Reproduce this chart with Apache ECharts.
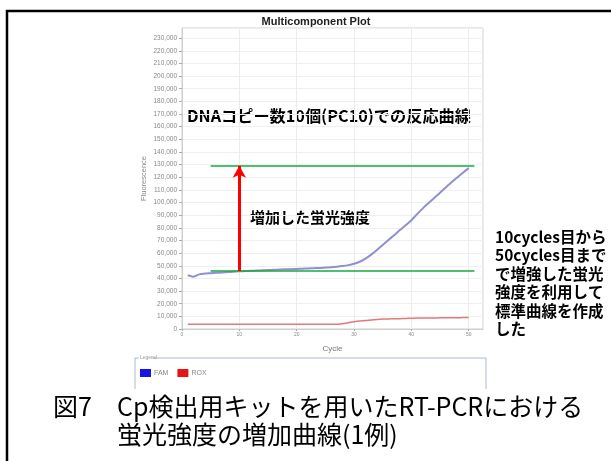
<!DOCTYPE html>
<html>
<head>
<meta charset="utf-8">
<script src="https://cdn.jsdelivr.net/npm/echarts@6/dist/echarts.min.js"></script>
<style>
  html, body { margin: 0; padding: 0; background: #ffffff; }
  #chart { width: 611px; height: 461px; }
</style>
</head>
<body>
<div id="chart"></div>
<script>
// Amplification cycles (x values)
const cycles = [1, 2, 3, 4, 5, 6, 7, 8, 9, 10,
  11, 12, 13, 14, 15, 16, 17, 18, 19, 20,
  21, 22, 23, 24, 25, 26, 27, 28, 29, 30,
  31, 32, 33, 34, 35, 36, 37, 38, 39, 40,
  41, 42, 43, 44, 45, 46, 47, 48, 49, 50];

// FAM reporter fluorescence per cycle
const famValues = [42500, 41400, 43200, 43800, 44100, 44400, 44700, 45000, 45300, 45600,
  45800, 46000, 46200, 46400, 46600, 46800, 47000, 47200, 47300, 47500,
  47700, 47900, 48100, 48300, 48600, 48900, 49300, 49800, 50500, 51600,
  53200, 55600, 58800, 62500, 66500, 70400, 74200, 78200, 82000, 86000,
  90800, 95400, 99600, 103600, 107800, 111900, 116000, 119800, 123600, 127200];

// ROX passive reference fluorescence per cycle
const roxValues = [3700, 3700, 3700, 3700, 3700, 3700, 3700, 3700, 3700, 3700,
  3700, 3700, 3700, 3700, 3700, 3700, 3700, 3700, 3700, 3700,
  3700, 3700, 3700, 3700, 3700, 3700, 3700, 4200, 5000, 5800,
  6400, 6700, 7200, 7600, 7900, 8000, 8100, 8200, 8400, 8500,
  8600, 8600, 8700, 8700, 8800, 8800, 8900, 8900, 9000, 9000];

// Reference levels: fluorescence at cycle 10 and at cycle 50 (plateau)
const refLevels = [45900, 129000];
const refSpan = [5, 51];
const arrowCycle = 10;

// Series names and legend swatch colours
const seriesNames = ['FAM', 'ROX'];
const legendColors = ['#1414e6', '#e61414'];

const famPairs = cycles.map((c, i) => [c, famValues[i]]);
const roxPairs = cycles.map((c, i) => [c, roxValues[i]]);

const chart = echarts.init(document.getElementById('chart'), null, { renderer: 'canvas' });

const jp = '"Noto Sans CJK JP", "Noto Sans", sans-serif';

const refLineData = refLevels.map(v => [
  { coord: [refSpan[0], v], symbol: 'none' },
  { coord: [refSpan[1], v], symbol: 'none' }
]);

const option = {
  backgroundColor: '#ffffff',
  animation: false,
  title: {
    text: 'Multicomponent Plot',
    left: 311,
    top: 11,
    textAlign: 'center',
    textStyle: { fontFamily: 'Liberation Sans, Arial, sans-serif', fontSize: 11, fontWeight: 'bold', color: '#222' }
  },
  legend: {
    left: 135,
    top: 364,
    itemWidth: 11,
    itemHeight: 8,
    itemGap: 9,
    icon: 'rect',
    textStyle: { fontFamily: 'Liberation Sans, Arial, sans-serif', fontSize: 7, color: '#888', padding: [0, 0, 0, -2] },
    data: seriesNames.map((n, i) => ({ name: n, itemStyle: { color: legendColors[i] } }))
  },
  grid: {
    left: 182,
    top: 28,
    width: 301,
    height: 301,
    show: true,
    borderColor: '#cfcfcf',
    borderWidth: 1,
    containLabel: false
  },
  xAxis: {
    type: 'value',
    min: 0,
    max: 52.5,
    interval: 10,
    name: 'Cycle',
    nameLocation: 'middle',
    nameGap: 16,
    nameTextStyle: { fontFamily: 'Liberation Sans, Arial, sans-serif', fontSize: 8, color: '#777' },
    axisLine: { show: true, lineStyle: { color: '#cfcfcf' } },
    axisTick: { show: true, length: 2, lineStyle: { color: '#aaa' } },
    axisLabel: { showMaxLabel: false, fontSize: 5, color: '#888', margin: 3, fontFamily: 'Liberation Sans, Arial, sans-serif' },
    splitLine: { show: true, lineStyle: { color: '#ececec', width: 1 } }
  },
  yAxis: {
    type: 'value',
    min: 0,
    max: 238000,
    interval: 10000,
    name: 'Fluorescence',
    nameLocation: 'middle',
    nameGap: 34,
    nameRotate: 90,
    nameTextStyle: { fontFamily: 'Liberation Sans, Arial, sans-serif', fontSize: 7.5, color: '#888' },
    axisLine: { show: true, lineStyle: { color: '#cfcfcf' } },
    axisTick: { show: true, length: 3, lineStyle: { color: '#aaa' } },
    axisLabel: {
      showMaxLabel: false,
      fontSize: 6.5,
      color: '#888',
      margin: 5,
      fontFamily: 'Liberation Sans, Arial, sans-serif',
      formatter: v => v.toLocaleString('en-US')
    },
    splitLine: { show: true, lineStyle: { color: '#efefef', width: 1 } }
  },
  series: [
    {
      name: seriesNames[0],
      type: 'line',
      data: famPairs,
      showSymbol: false,
      smooth: 0.3,
      lineStyle: { color: '#8f8fd4', width: 2 },
      itemStyle: { color: '#8f8fd4' },
      z: 3,
      markLine: {
        silent: true,
        symbol: 'none',
        label: { show: false },
        lineStyle: { color: '#1aa83c', width: 1.5, type: 'solid' },
        data: refLineData.concat([
          [
            { coord: [arrowCycle, refLevels[0]], symbol: 'none', lineStyle: { color: '#ff0000', width: 3 } },
            { coord: [arrowCycle, refLevels[1]], symbol: 'arrow', symbolSize: [10, 12], lineStyle: { color: '#ff0000', width: 3 } }
          ]
        ])
      }
    },
    {
      name: seriesNames[1],
      type: 'line',
      data: roxPairs,
      showSymbol: false,
      smooth: 0.3,
      lineStyle: { color: '#e07a7a', width: 1.5 },
      itemStyle: { color: '#e07a7a' },
      z: 2
    }
  ],
  graphic: [
    // outer figure frame
    {
      type: 'rect',
      shape: { x: 7, y: 11, width: 700, height: 600 },
      style: { fill: 'none', stroke: '#000', lineWidth: 2.5 },
      silent: true
    },
    // legend panel outline
    {
      type: 'polyline',
      shape: { points: [[152, 358], [486, 358], [486, 389]] },
      style: { fill: 'none', stroke: '#a9bccb', lineWidth: 1 },
      silent: true
    },
    {
      type: 'polyline',
      shape: { points: [[139, 358], [135, 358], [135, 389]] },
      style: { fill: 'none', stroke: '#a9bccb', lineWidth: 1 },
      silent: true
    },
    {
      type: 'text',
      left: 140,
      top: 355,
      style: { text: 'Legend', font: '5px Liberation Sans, Arial, sans-serif', fill: '#999' },
      silent: true
    },
    // annotations inside the plot
    {
      type: 'text',
      left: 187,
      top: 108,
      style: { text: 'DNAコピー数10個(PC10)での反応曲線', font: 'bold 16.2px ' + jp, fill: '#000' },
      silent: true
    },
    {
      type: 'text',
      left: 250,
      top: 210,
      style: { text: '増加した蛍光強度', font: 'bold 15px ' + jp, fill: '#000' },
      silent: true
    },
    // side note
    {
      type: 'text',
      left: 495,
      top: 228,
      style: {
        text: '10cycles目から\n50cycles目まで\nで増強した蛍光\n強度を利用して\n標準曲線を作成\nした',
        font: 'bold 15.5px ' + jp,
        lineHeight: 18.4,
        fill: '#000'
      },
      silent: true
    },
    // figure caption
    {
      type: 'text',
      left: 53,
      top: 394,
      style: { text: '図7', font: '25px ' + jp, fill: '#000' },
      silent: true
    },
    {
      type: 'text',
      left: 117,
      top: 394,
      style: { text: 'Cp検出用キットを用いたRT-PCRにおける', font: '25px ' + jp, fill: '#000' },
      silent: true
    },
    {
      type: 'text',
      left: 117,
      top: 422,
      style: { text: '蛍光強度の増加曲線(1例)', font: '25px ' + jp, fill: '#000' },
      silent: true
    }
  ]
};

chart.setOption(option);
</script>
</body>
</html>
